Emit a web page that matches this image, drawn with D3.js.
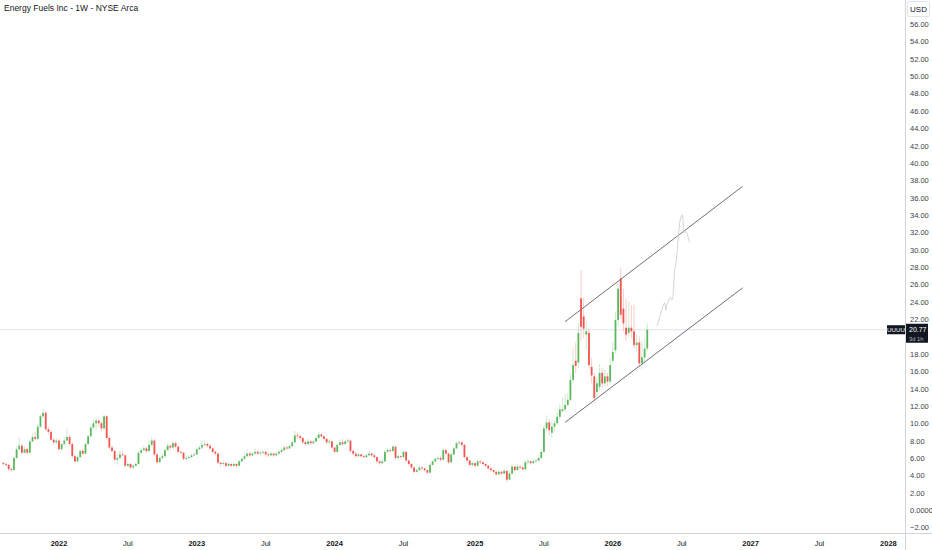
<!DOCTYPE html>
<html><head><meta charset="utf-8">
<script src="https://cdn.jsdelivr.net/npm/d3@7"></script>
<style>
html,body{margin:0;padding:0;background:#fff;}
svg{display:block;font-family:"Liberation Sans","DejaVu Sans",Arial,sans-serif;}
</style></head>
<body><svg id="chart" width="932" height="550"></svg>
<script>
// ---- data (weekly candles, UUUU) ----
const title = "Energy Fuels Inc - 1W - NYSE Arca";
const firstWeek = "2021-08-09";
const opens = [5.4,5.3,5.2,4.7,4.6,6.0,7.0,7.4,6.6,7.0,6.6,7.9,8.4,8.2,9.6,10.8,11.2,9.3,9.0,8.1,
7.8,8.0,7.0,7.6,8.0,8.4,7.6,6.2,5.6,6.1,6.8,6.5,7.6,8.5,9.5,10.0,10.3,10.0,9.4,10.8,
8.3,7.2,6.8,5.8,6.0,6.4,6.3,5.1,5.3,4.9,5.1,5.3,6.6,6.9,7.1,6.8,7.5,8.0,6.4,5.5,
6.0,6.2,6.9,7.4,7.2,7.7,7.3,6.7,6.6,5.9,6.0,6.1,6.3,6.4,7.0,7.2,7.5,7.6,7.4,7.1,
6.7,6.5,5.45,5.3,5.4,5.1,5.3,5.1,5.3,5.1,5.6,5.9,6.2,6.5,6.3,6.5,6.7,6.5,6.6,6.7,
6.4,6.3,6.5,6.3,6.5,6.7,6.9,7.2,7.1,7.35,7.8,8.6,8.5,8.3,7.8,7.6,7.9,7.7,7.9,8.3,
8.7,8.5,8.2,7.8,7.9,7.2,6.7,7.5,7.8,7.6,7.9,8.0,6.8,6.5,6.2,6.4,6.2,6.1,6.3,6.5,
6.3,6.1,5.6,5.4,5.6,6.7,6.9,6.8,7.3,6.0,6.2,6.1,6.7,5.7,5.3,4.9,4.4,4.6,4.9,4.8,
4.6,4.3,5.2,5.6,5.9,6.0,5.8,6.9,6.5,5.5,6.4,7.1,7.7,7.8,7.5,6.1,5.7,5.2,5.4,5.1,
5.6,5.5,5.3,5.1,4.8,4.6,4.4,4.1,4.4,4.2,4.5,3.5,4.2,5.0,4.6,5.0,4.9,4.7,5.5,5.6,
5.4,5.6,5.7,6.0,6.7,9.4,10.1,8.9,9.6,10.0,10.75,11.4,11.6,12.1,12.7,15.0,17.2,17.0,24.4,22.3,
20.2,20.4,16.5,15.4,13.6,14.2,15.8,14.6,15.4,14.8,17.2,18.4,21.9,26.7,23.2,21.0,20.4,21.0,20.6,19.0,
19.3,16.9,17.6,18.6];
const highs = [5.6,5.5,5.3,4.9,6.2,7.3,8.4,7.6,7.3,7.2,8.1,8.8,9.0,9.9,11.0,11.6,11.4,9.6,9.2,8.3,
8.3,8.2,7.8,8.4,9.4,8.6,7.8,6.4,6.3,7.0,7.1,7.8,8.7,9.8,10.4,10.7,10.6,10.2,11.0,10.9,
8.5,7.4,7.0,6.4,6.8,6.8,6.4,5.6,5.4,5.3,5.5,6.8,7.2,7.4,7.3,8.1,8.4,8.2,6.6,6.2,
6.5,7.1,7.7,7.6,8.0,7.9,7.4,6.9,6.7,6.2,6.3,6.5,6.6,7.2,7.4,8.0,8.0,7.8,7.6,7.2,
6.9,6.6,5.6,5.7,5.6,5.5,5.4,5.5,5.4,5.8,6.1,6.4,7.0,6.7,6.7,7.1,6.9,6.8,6.9,6.8,
6.6,6.7,6.6,6.7,6.9,7.1,7.4,7.4,7.6,8.0,9.1,8.9,8.7,8.4,8.0,8.2,8.1,8.1,8.5,9.0,
8.9,8.6,8.3,8.2,8.0,7.3,7.7,8.1,8.2,8.1,8.3,8.1,7.0,6.7,6.6,6.5,6.4,6.5,6.8,6.6,
6.5,6.2,5.7,5.8,6.9,7.2,7.1,7.5,7.4,6.4,6.3,6.9,6.8,5.8,5.4,5.0,4.8,5.1,5.0,4.9,
4.7,5.4,5.8,6.1,6.2,6.2,7.2,7.1,6.6,6.6,7.3,7.9,8.1,8.0,7.6,6.2,5.8,5.6,5.5,5.8,
5.8,5.6,5.4,5.2,4.9,4.7,4.5,4.6,4.5,4.7,4.6,4.4,5.2,5.1,5.3,5.2,5.0,5.8,5.9,5.8,
5.9,6.0,6.3,7.0,9.8,10.9,10.5,10.2,10.4,11.3,12.2,13.0,13.4,13.5,15.8,18.6,19.3,21.5,27.6,24.5,
21.8,21.0,17.5,15.8,15.4,16.8,16.4,16.2,15.8,17.5,19.4,22.8,26.2,27.9,25.5,24.3,24.0,23.6,23.6,20.2,
20.0,19.5,19.8,21.5];
const lows = [5.1,5.0,4.5,4.4,4.5,5.9,6.9,6.4,6.5,6.4,6.5,7.8,8.0,8.1,9.5,10.6,9.1,8.7,7.9,7.5,
7.6,6.8,6.8,7.4,7.9,7.4,6.0,5.4,5.5,6.0,6.3,6.4,7.5,8.3,9.3,9.2,9.6,9.0,9.2,8.1,
7.0,6.6,5.6,5.2,5.9,6.1,4.9,4.9,4.7,4.7,5.0,5.2,6.4,6.7,6.6,6.7,7.3,6.2,5.3,5.4,
5.8,6.0,6.8,6.9,7.0,7.1,6.5,6.4,5.7,5.7,5.9,6.0,6.2,6.3,6.9,7.0,7.3,7.2,6.9,6.5,
6.3,5.3,5.0,5.1,4.9,5.0,4.9,5.0,4.9,5.0,5.5,5.8,6.1,6.1,6.2,6.4,6.3,6.3,6.4,6.2,
6.1,6.2,6.1,6.2,6.4,6.6,6.8,6.9,7.0,7.2,7.7,8.2,8.0,7.6,7.4,7.4,7.5,7.5,7.8,8.2,
8.3,8.0,7.6,7.6,7.0,6.5,6.6,7.4,7.4,7.5,7.7,6.6,6.3,6.0,6.1,6.0,5.9,6.0,6.2,6.1,
5.9,5.4,5.2,5.3,5.5,6.6,6.6,6.7,5.8,5.9,5.9,6.0,5.5,5.1,4.7,4.2,4.3,4.5,4.6,4.4,
4.1,4.2,5.1,5.5,5.8,5.6,5.7,6.3,5.3,5.4,6.3,7.0,7.5,7.3,5.9,5.5,5.0,5.0,4.9,5.0,
5.3,5.1,4.9,4.6,4.4,4.2,3.9,4.0,4.0,4.1,3.2,3.4,4.1,4.4,4.5,4.7,4.5,4.6,5.3,5.2,
5.3,5.4,5.6,5.9,6.6,9.1,8.6,8.3,9.0,9.8,10.5,11.2,11.3,11.9,12.5,14.6,15.8,16.4,19.5,19.8,
18.5,16.3,14.6,12.3,12.9,13.8,14.0,14.2,14.3,14.5,16.8,18.0,21.2,22.0,20.6,19.5,19.9,19.8,18.6,18.3,
16.5,16.2,16.8,18.3];
const closes = [5.3,5.2,4.7,4.6,6.0,7.0,7.4,6.6,7.0,6.6,7.9,8.4,8.2,9.6,10.8,11.2,9.3,9.0,8.1,7.8,
8.0,7.0,7.6,8.0,8.4,7.6,6.2,5.6,6.1,6.8,6.5,7.6,8.5,9.5,10.0,10.3,10.0,9.4,10.8,8.3,
7.2,6.8,5.8,6.0,6.4,6.3,5.1,5.3,4.9,5.1,5.3,6.6,6.9,7.1,6.8,7.5,8.0,6.4,5.5,6.0,
6.2,6.9,7.4,7.2,7.7,7.3,6.7,6.6,5.9,6.0,6.1,6.3,6.4,7.0,7.2,7.5,7.6,7.4,7.1,6.7,
6.5,5.45,5.3,5.4,5.1,5.3,5.1,5.3,5.1,5.6,5.9,6.2,6.5,6.3,6.5,6.7,6.5,6.6,6.7,6.4,
6.3,6.5,6.3,6.5,6.7,6.9,7.2,7.1,7.35,7.8,8.6,8.5,8.3,7.8,7.6,7.9,7.7,7.9,8.3,8.7,
8.5,8.2,7.8,7.9,7.2,6.7,7.5,7.8,7.6,7.9,8.0,6.8,6.5,6.2,6.4,6.2,6.1,6.3,6.5,6.3,
6.1,5.6,5.4,5.6,6.7,6.9,6.8,7.3,6.0,6.2,6.1,6.7,5.7,5.3,4.9,4.4,4.6,4.9,4.8,4.6,
4.3,5.2,5.6,5.9,6.0,5.8,6.9,6.5,5.5,6.4,7.1,7.7,7.8,7.5,6.1,5.7,5.2,5.4,5.1,5.6,
5.5,5.3,5.1,4.8,4.6,4.4,4.1,4.4,4.2,4.5,3.5,4.2,5.0,4.6,5.0,4.9,4.7,5.5,5.6,5.4,
5.6,5.7,6.0,6.7,9.4,10.1,9.2,9.6,10.0,10.75,11.6,11.6,12.1,12.7,15.0,16.7,16.6,20.4,21.1,20.9,
20.6,16.7,15.5,12.9,14.6,15.8,14.6,15.4,14.8,16.7,18.2,21.9,25.5,22.5,21.5,20.2,21.0,20.6,19.0,19.3,
16.9,17.6,18.6,20.77];

const lastPrice = 20.77;
const countdown = "3d 1h";
const symbol = "UUUU";

// projected path (light gray) drawn on the chart
const ghostDates = ["2026-05-02","2026-05-11","2026-05-18","2026-05-22","2026-05-25","2026-05-28","2026-06-02","2026-06-06","2026-06-10","2026-06-13","2026-06-17","2026-06-22","2026-06-25","2026-06-28","2026-07-01","2026-07-05","2026-07-08","2026-07-10","2026-07-12","2026-07-17","2026-07-20","2026-07-25","2026-07-27"];
const ghostValues = [21.2,22.5,23.6,23.9,23.0,23.7,24.3,24.5,24.2,24.6,27.6,28.8,30.3,31.9,33.2,33.9,34.0,33.1,31.9,32.1,31.9,31.1,30.8];

// channel lines
const upperLine = [["2025-09-01",21.7],["2026-12-14",37.3]];
const lowerLine = [["2025-09-01",10.1],["2026-12-14",25.6]];

// axis ticks
const xTickDates = ["2022-01-03","2022-07-04","2023-01-02","2023-07-03","2024-01-01","2024-07-01","2025-01-06","2025-07-07","2026-01-05","2026-07-06","2027-01-04","2027-07-05","2028-01-03"];
const xTickLabels = ["2022","Jul","2023","Jul","2024","Jul","2025","Jul","2026","Jul","2027","Jul","2028"];
const yTicks = [-2,0,2,4,6,8,10,12,14,16,18,20,22,24,26,28,30,32,34,36,38,40,42,44,46,48,50,52,54,56];

// ---- drawing ----
const W = 932, H = 550;
const axisX = 905, axisY = 533;
const parse = d3.utcParse("%Y-%m-%d");
const svg = d3.select("#chart");

const x = d3.scaleUtc().domain([parse("2022-01-03"), parse("2028-01-03")]).range([59, 888.4]);
const y = d3.scaleLinear().domain([0, 56]).range([510, 24]);

const start = parse(firstWeek);
const candleDates = closes.map((_, i) => d3.utcMonday.offset(start, i));
const candles = closes.map((c, i) => ({d: candleDates[i], o: opens[i], h: highs[i], l: lows[i], c}));

const up = "#5cb85f", down = "#f2544f";
svg.append("defs").append("clipPath").attr("id","plot")
  .append("rect").attr("x",0).attr("y",0).attr("width",axisX).attr("height",axisY);

const plot = svg.append("g").attr("clip-path","url(#plot)");

// last price line
plot.append("line").attr("x1",0).attr("x2",axisX).attr("y1",y(lastPrice)).attr("y2",y(lastPrice))
  .attr("stroke","#e3e4e8").attr("stroke-width",1);

// wicks
plot.append("g").selectAll("line").data(candles).join("line")
  .attr("x1", d => x(d.d)).attr("x2", d => x(d.d))
  .attr("y1", d => y(d.h)).attr("y2", d => y(d.l))
  .attr("stroke", d => d.c >= d.o ? up : down)
  .attr("stroke-opacity", 0.3).attr("stroke-width", 1);

// bodies
const bw = 1.8;
plot.append("g").selectAll("rect").data(candles).join("rect")
  .attr("x", d => x(d.d) - bw/2)
  .attr("y", d => y(Math.max(d.o, d.c)))
  .attr("width", bw)
  .attr("height", d => Math.max(0.8, Math.abs(y(d.o) - y(d.c))))
  .attr("fill", d => d.c >= d.o ? up : down);

// channel lines
const lineGen = d3.line().x(p => x(parse(p[0]))).y(p => y(p[1]));
[upperLine, lowerLine].forEach(l => {
  plot.append("path").attr("d", lineGen(l)).attr("fill","none")
    .attr("stroke","#6f717a").attr("stroke-width",1);
});

// ghost path
const ghost = ghostDates.map((d, i) => [d, ghostValues[i]]);
plot.append("path").attr("d", lineGen(ghost)).attr("fill","none")
  .attr("stroke","#d6d6d8").attr("stroke-width",1);

// axes frame
svg.append("line").attr("x1",axisX+0.5).attr("x2",axisX+0.5).attr("y1",0).attr("y2",H)
  .attr("stroke","#d1d4dc");
svg.append("line").attr("x1",0).attr("x2",W).attr("y1",axisY+0.5).attr("y2",axisY+0.5)
  .attr("stroke","#d1d4dc");

// y axis labels (label hidden where the last-price tag covers it)
const py = y(lastPrice);
const fmt = v => v === 0 ? "0.0000" : (v < 0 ? "\u2212" + Math.abs(v).toFixed(2) : v.toFixed(2));
svg.append("g").selectAll("text").data(yTicks.filter(v => Math.abs(y(v) - py) > 10)).join("text")
  .attr("x", axisX + 5).attr("y", v => y(v) + 3)
  .attr("font-size", 7.5).attr("fill", "#3d4048").text(fmt);

// USD box
svg.append("rect").attr("x",axisX+2.5).attr("y",1.5).attr("width",22).attr("height",15).attr("rx",2)
  .attr("fill","#fff").attr("stroke","#e0e3eb");
svg.append("text").attr("x",axisX+13.5).attr("y",12).attr("text-anchor","middle")
  .attr("font-size",8).attr("fill","#131722").text("USD");

// x axis labels
svg.append("g").selectAll("text").data(xTickDates).join("text")
  .attr("x", d => x(parse(d))).attr("y", 546)
  .attr("text-anchor","middle").attr("font-size",7.5)
  .attr("font-weight",(d,i) => xTickLabels[i] === "Jul" ? "normal" : "bold")
  .attr("fill","#131722").text((d,i) => xTickLabels[i]);

// price label
svg.append("rect").attr("x",887).attr("y",py-4.5).attr("width",18).attr("height",9).attr("fill","#131722");
svg.append("text").attr("x",896).attr("y",py+2.3).attr("text-anchor","middle")
  .attr("font-size",6.2).attr("fill","#fff").text(symbol);
svg.append("rect").attr("x",axisX+1).attr("y",py-6).attr("width",22).attr("height",19).attr("fill","#131722");
svg.append("text").attr("x",axisX+4).attr("y",py+1.8)
  .attr("font-size",7).attr("fill","#fff").text(lastPrice.toFixed(2));
svg.append("text").attr("x",axisX+4).attr("y",py+11)
  .attr("font-size",5.8).attr("fill","#b2b5be").text(countdown);

// title
svg.append("text").attr("x",4).attr("y",11).attr("font-size",8.5).attr("fill","#131722").text(title);
</script></body></html>
